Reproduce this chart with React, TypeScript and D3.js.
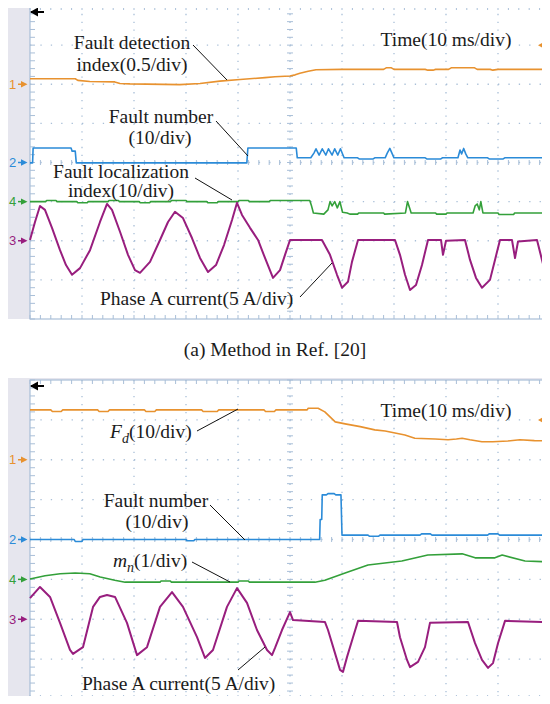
import React from 'react'
import * as d3 from 'd3'

// oscilloscope captures, time in ms (10 ms/div), value in divisions from the channel marker
const timeDomain = [0, 100]

// channel markers, in divisions from the screen centre
const markerDiv = {ch1: 2, ch2: 0, ch4: -1, ch3: -2}

const colors = {
  ch1: '#e8922f',
  ch2: '#2b8bd8',
  ch4: '#33a03a',
  ch3: '#981e7e',
}

// (a) Method in Ref. [20]
const aFaultDetection = [
  [0, 0.14], [8.7, 0.14], [9.2, 0.1], [11.5, 0.07], [16.3, 0.06], [17.3, 0.02], [19.2, 0.01],
  [28.8, -0.01], [32.7, 0.02], [36.5, 0.08], [40.4, 0.12], [45.2, 0.17], [47.1, 0.19], [50, 0.21],
  [51, 0.24], [51.9, 0.28], [53.5, 0.33], [55, 0.37], [60, 0.38], [68, 0.38], [68.5, 0.42],
  [69.5, 0.42], [70, 0.38], [76, 0.38], [76.5, 0.36], [77.5, 0.36], [78, 0.38], [80.5, 0.38],
  [81, 0.42], [85.5, 0.42], [86, 0.38], [88.5, 0.38], [89, 0.36], [90, 0.38], [100, 0.38],
]

const aFaultNumber = [
  [0, -0.01], [0.5, -0.01], [0.6, 0.37], [7.9, 0.37], [8.1, 0.29], [8.7, 0.29], [8.9, -0.01],
  [41.7, -0.01], [41.9, 0.37], [51.2, 0.37], [51.4, 0.12], [54, 0.12], [54.6, 0.24], [55, 0.35],
  [55.6, 0.19], [56.2, 0.35], [56.9, 0.19], [57.4, 0.35], [58.1, 0.19], [58.6, 0.35], [59.2, 0.19],
  [59.7, 0.35], [60.4, 0.12], [63, 0.12], [63.3, 0.09], [66, 0.09], [66.3, 0.12], [68.3, 0.12],
  [68.7, 0.24], [69.2, 0.36], [69.6, 0.24], [70, 0.12], [76, 0.12], [76.3, 0.09], [79, 0.09],
  [79.3, 0.12], [82.3, 0.12], [82.7, 0.32], [83, 0.22], [83.4, 0.36], [83.8, 0.22], [84.2, 0.12],
  [88, 0.12], [88.3, 0.09], [91, 0.09], [91.3, 0.12], [100, 0.12],
]

const aLocalization = [
  [0, 0], [3, 0], [3.2, 0.03], [5, 0.03], [5.2, 0], [9, 0], [9.2, -0.03], [11, -0.03], [11.2, 0],
  [15, 0], [15.2, 0.03], [17, 0.03], [17.2, 0], [21, 0], [21.2, -0.03], [23, -0.03], [23.2, 0],
  [27, 0], [27.2, 0.03], [30, 0.03], [30.2, 0], [34, 0], [34.2, -0.03], [36, -0.03], [36.2, 0],
  [40, 0], [40.2, 0.03], [42, 0.03], [42.2, 0], [46, 0], [46.2, 0.03], [53.8, 0.03], [54.1, -0.09],
  [54.5, -0.29], [56.5, -0.32], [57.3, -0.21], [57.7, 0], [58.1, -0.11], [58.6, 0], [59.1, -0.16],
  [59.6, 0], [60.1, -0.27], [61, -0.29], [61.5, -0.32], [63, -0.32], [63.2, -0.29], [68, -0.29],
  [68.2, -0.32], [72.2, -0.29], [72.6, 0], [73, -0.16], [73.3, -0.29], [78, -0.29], [78.2, -0.32],
  [80, -0.32], [80.2, -0.29], [85.2, -0.29], [85.6, -0.11], [86, -0.06], [86.4, -0.21], [86.7, 0],
  [87.1, -0.29], [90, -0.29], [90.2, -0.33], [93, -0.33], [93.2, -0.29], [100, -0.29],
]

const aPhaseA = [
  [0, 0.02], [0.96, 0.48], [1.92, 0.89], [2.88, 0.79], [4.23, 0.33], [5.77, -0.24], [6.92, -0.62],
  [8.08, -0.87], [9.62, -0.7], [11.54, -0.24], [13.46, 0.48], [14.81, 0.94], [15.77, 0.79],
  [17.31, 0.23], [18.85, -0.36], [20.19, -0.75], [21.15, -0.82], [23.08, -0.54], [25, 0.02],
  [26.54, 0.48], [27.88, 0.74], [29.42, 0.58], [31.15, 0.07], [32.69, -0.44], [34.23, -0.8],
  [35.77, -0.62], [37.31, -0.11], [38.85, 0.53], [39.81, 0.97], [40.77, 0.66], [42.31, 0.33],
  [43.85, 0.02], [45.19, -0.44], [46.73, -0.95], [48.08, -0.75], [49.04, -0.36], [50, 0.02],
  [56.15, 0.02], [57.69, -0.36], [59.04, -0.87], [60, -1.2], [61.15, -1.05], [61.92, -0.54],
  [63.08, 0.02], [70.19, 0.02], [71.15, -0.36], [72.12, -0.87], [73.08, -1.26], [74.23, -1.13],
  [75.38, -0.62], [76.54, 0.02], [79.04, 0.02], [79.42, -0.36], [80, 0], [83.65, 0.02],
  [84.62, -0.49], [85.77, -0.95], [86.92, -1.2], [88.46, -1], [89.42, -0.49], [90.38, 0.02],
  [92.69, 0.02], [93.27, -0.44], [93.85, -0.02], [97.5, 0.02], [98.46, -0.49], [99.42, -1],
  [100, -1.26],
]

// (b) proposed method
const bFd = [
  [0, 1.25], [4, 1.25], [4.3, 1.21], [6, 1.21], [6.3, 1.25], [13, 1.25], [13.3, 1.21], [15, 1.21],
  [15.3, 1.25], [22, 1.25], [22.3, 1.21], [24, 1.21], [24.3, 1.25], [33, 1.25], [33.3, 1.21],
  [36, 1.21], [36.3, 1.25], [45, 1.25], [45.3, 1.21], [47, 1.21], [47.3, 1.25], [53.3, 1.25],
  [53.5, 1.29], [55.4, 1.29], [56.7, 1.2], [58.7, 0.95], [60.6, 0.9], [63.5, 0.83], [66.3, 0.75],
  [68.3, 0.72], [70.2, 0.67], [72.1, 0.62], [74, 0.54], [77.9, 0.52], [80.4, 0.5], [82, 0.52],
  [83.1, 0.54], [84.6, 0.5], [86.9, 0.45], [89, 0.45], [91.9, 0.47], [94.2, 0.5], [97, 0.48],
  [100, 0.47],
]

const bFaultNumber = [
  [0, 0], [8.5, 0], [8.7, -0.05], [10, -0.05], [10.2, 0], [30, 0], [30.2, -0.03], [31.5, -0.03],
  [31.7, 0], [55.7, 0], [55.8, 0.5], [56.1, 0.5], [56.2, 1.12], [57, 1.12], [57.3, 1.15],
  [58.5, 1.15], [58.8, 1.12], [59.8, 1.12], [60, 0.11], [65, 0.11], [65.3, 0.08], [67, 0.08],
  [67.3, 0.11], [75, 0.11], [75.3, 0.14], [77, 0.14], [77.3, 0.11], [88, 0.11], [88.3, 0.14],
  [90, 0.14], [90.3, 0.11], [100, 0.11],
]

const bMn = [
  [0, 0.01], [2.9, 0.09], [5.8, 0.14], [8.7, 0.16], [11.5, 0.14], [13.5, 0.06], [16.3, -0.02],
  [18.3, -0.07], [25, -0.07], [25.2, -0.04], [27, -0.04], [27.2, -0.07], [40, -0.07], [40.2, -0.04],
  [42, -0.04], [42.2, -0.07], [54.8, -0.07], [56.7, -0.02], [60.6, 0.16], [65, 0.36], [71.5, 0.46],
  [76.5, 0.61], [83.1, 0.64], [85.6, 0.54], [89.4, 0.54], [90.8, 0.61], [95.2, 0.46], [100, 0.44],
]

const bPhaseA = [
  [0, 0.53], [1.92, 0.81], [3.85, 0.56], [5.77, -0.09], [7.69, -0.77], [8.27, -0.87], [10.19, -0.7],
  [12.12, 0.31], [13.46, 0.56], [14.81, 0.61], [16.35, 0.56], [18.65, -0.09], [20.58, -0.9],
  [22.5, -0.7], [25, 0.31], [27.31, 0.68], [29.42, 0.31], [32.12, -0.45], [33.65, -0.97],
  [35.19, -0.77], [37.88, 0.31], [39.81, 0.78], [41.73, 0.41], [43.65, -0.27], [45.58, -0.77],
  [46.54, -0.9], [47.12, -0.72], [48.46, -0.27], [50, 0.18], [50.58, -0.02], [56.73, -0.07],
  [57.31, -0.27], [58.65, -0.85], [59.62, -1.27], [60.19, -1.32], [60.96, -0.95], [62.12, -0.45],
  [63.08, -0.04], [70.58, -0.07], [71.15, -0.45], [72.5, -1.02], [73.08, -1.2], [74.62, -1.07],
  [75.96, -0.7], [76.92, -0.09], [84.23, -0.07], [85.58, -0.6], [86.92, -1.02], [88.08, -1.22],
  [89.04, -1.1], [90, -0.6], [91.35, -0.04], [98.65, -0.07], [99.42, -0.45], [100, -0.65],
]

const X0 = 30
const X1 = 550
const serif = 'Liberation Serif, Times New Roman, serif'
const textColor = '#1b1b1b'
const gridColor = '#a9bfd8'

function Panel({top, bottom, frameTop, frameBottom, traces, children}) {
  const x = d3.scaleLinear().domain(timeDomain).range([X0, X1])
  const y = d3.scaleLinear().domain([4, -4]).range([top, bottom])
  const divH = y(0) - y(1)
  const divW = x(10) - x(0)
  const minorH = divH / 5
  const minorW = divW / 5

  const majorT = d3.range(1, 10).map((i) => i * 10)
  const majorD = d3.range(-3, 4)
  const minorT = d3.range(0, 51).map((i) => i * 2)
  const minorD = d3.range(0, 41).map((i) => -4 + i * 0.2)

  return (
    <g>
      <rect x={7} y={frameTop} width={543} height={frameBottom - frameTop} fill="#e6e6ee" />
      <rect x={X0} y={top} width={X1 - X0} height={bottom - top} fill="#ffffff" />
      {majorT.map((t) => (
        <line
          key={'vt' + t}
          x1={x(t)}
          x2={x(t)}
          y1={top}
          y2={bottom}
          stroke={gridColor}
          strokeWidth={1.3}
          strokeDasharray={`1.3 ${minorH - 1.3}`}
        />
      ))}
      {majorD.map((d) => (
        <line
          key={'hd' + d}
          x1={X0}
          x2={X1}
          y1={y(d)}
          y2={y(d)}
          stroke={gridColor}
          strokeWidth={1.3}
          strokeDasharray={`1.3 ${minorW - 1.3}`}
        />
      ))}
      {minorT.map((t) => (
        <g key={'mt' + t} stroke={gridColor} strokeWidth={1}>
          <line x1={x(t)} x2={x(t)} y1={top} y2={top + 4} />
          <line x1={x(t)} x2={x(t)} y1={bottom} y2={bottom - 4} />
          <line x1={x(t)} x2={x(t)} y1={y(0) - 2.5} y2={y(0) + 2.5} />
        </g>
      ))}
      {minorD.map((d) => (
        <g key={'md' + d.toFixed(1)} stroke={gridColor} strokeWidth={1}>
          <line x1={X0} x2={X0 + 5} y1={y(d)} y2={y(d)} />
          <line x1={x(50) - 3} x2={x(50) + 3} y1={y(d)} y2={y(d)} />
        </g>
      ))}
      <rect x={X0} y={top} width={X1 - X0 + 2} height={bottom - top} fill="none" stroke={gridColor} strokeWidth={1.2} />

      {traces.map((tr) => {
        const line = d3
          .line()
          .x((d) => x(d[0]))
          .y((d) => y(markerDiv[tr.ch] + d[1]))
        return (
          <path
            key={tr.ch}
            d={line(tr.data)}
            fill="none"
            stroke={colors[tr.ch]}
            strokeWidth={tr.ch === 'ch3' ? 2 : 1.6}
            strokeLinejoin="round"
          />
        )
      })}

      {/* channel ground markers */}
      {['ch1', 'ch2', 'ch4', 'ch3'].map((ch) => {
        const my = y(markerDiv[ch])
        return (
          <g key={'m' + ch} fill={colors[ch]} stroke={colors[ch]}>
            <text x={9} y={my + 4.5} fontFamily="Liberation Sans, Arial" fontSize={13} stroke="none">
              {ch.slice(2)}
            </text>
            <line x1={18} x2={24} y1={my} y2={my} strokeWidth={1.5} />
            <path d={`M21,${my - 3.2}L27.5,${my}L21,${my + 3.2}Z`} stroke="none" />
          </g>
        )
      })}

      {/* horizontal position and trigger level */}
      <g>
        <line x1={31} x2={44} y1={top + 6} y2={top + 6} stroke="#000" strokeWidth={2} />
        <path d={`M30,${top + 6}L38,${top + 1.5}L38,${top + 10.5}Z`} fill="#000" />
      </g>
      <g fill={colors.ch1} stroke={colors.ch1}>
        <line x1={545} x2={550} y1={y(3)} y2={y(3)} strokeWidth={1.5} />
        <path d={`M538,${y(3)}L546,${y(3) - 4.5}L546,${y(3) + 4.5}Z`} stroke="none" />
      </g>
      {children}
    </g>
  )
}

function Label({x, y, anchor = 'middle', children}) {
  return (
    <text x={x} y={y} textAnchor={anchor} fontFamily={serif} fontSize={19.5} fill={textColor}>
      {children}
    </text>
  )
}

function Leader({x1, y1, x2, y2}) {
  return <line x1={x1} y1={y1} x2={x2} y2={y2} stroke="#111" strokeWidth={1} />
}

export default function App() {
  return (
    <svg width={550} height={704} style={{display: 'block', margin: '-8px', background: '#fff'}}>
      <Panel
        top={6}
        bottom={319}
        frameTop={0}
        frameBottom={319}
        traces={[
          {ch: 'ch1', data: aFaultDetection},
          {ch: 'ch2', data: aFaultNumber},
          {ch: 'ch4', data: aLocalization},
          {ch: 'ch3', data: aPhaseA},
        ]}
      >
        <Label x={132} y={49}>Fault detection</Label>
        <Label x={132} y={71}>index(0.5/div)</Label>
        <Leader x1={193} y1={45} x2={227} y2={80} />
        <Label x={446} y={46}>Time(10 ms/div)</Label>
        <Label x={161} y={123}>Fault number</Label>
        <Label x={160} y={144}>(10/div)</Label>
        <Leader x1={216} y1={121} x2={248} y2={156} />
        <Label x={121} y={178}>Fault localization</Label>
        <Label x={121} y={197}>index(10/div)</Label>
        <Leader x1={195} y1={178} x2={232} y2={200} />
        <Label x={100} y={305} anchor="start">Phase A current(5 A/div)</Label>
        <Leader x1={300} y1={297} x2={332} y2={263} />
      </Panel>

      <Label x={275} y={356}>(a) Method in Ref. [20]</Label>

      <Panel
        top={380}
        bottom={699}
        frameTop={378}
        frameBottom={704}
        traces={[
          {ch: 'ch1', data: bFd},
          {ch: 'ch2', data: bFaultNumber},
          {ch: 'ch4', data: bMn},
          {ch: 'ch3', data: bPhaseA},
        ]}
      >
        <Label x={110} y={438} anchor="start">
          <tspan fontStyle="italic">F</tspan>
          <tspan fontStyle="italic" fontSize={14} dy={5}>d</tspan>
          <tspan dy={-5}>(10/div)</tspan>
        </Label>
        <Leader x1={197} y1={431} x2={238} y2={409} />
        <Label x={446} y={417}>Time(10 ms/div)</Label>
        <Label x={156} y={507}>Fault number</Label>
        <Label x={157} y={528}>(10/div)</Label>
        <Leader x1={210} y1={505} x2={245} y2={540} />
        <Label x={113} y={567} anchor="start">
          <tspan fontStyle="italic">m</tspan>
          <tspan fontStyle="italic" fontSize={14} dy={5}>n</tspan>
          <tspan dy={-5}>(1/div)</tspan>
        </Label>
        <Leader x1={192} y1={562} x2={230} y2={582} />
        <Label x={82} y={690} anchor="start">Phase A current(5 A/div)</Label>
        <Leader x1={238} y1={670} x2={265} y2={647} />
      </Panel>
    </svg>
  )
}
